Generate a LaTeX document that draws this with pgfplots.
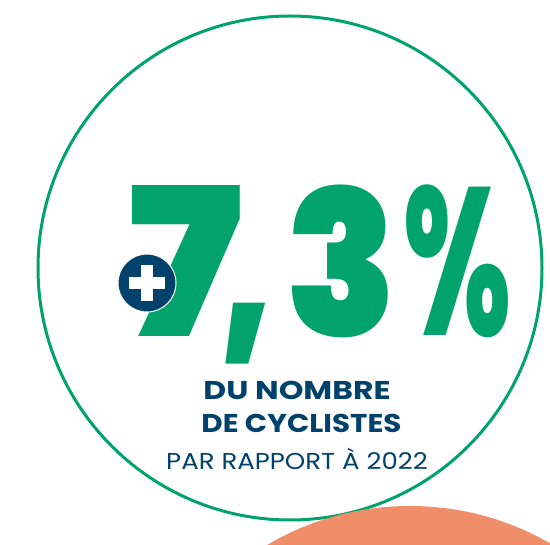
\documentclass[border=0pt]{standalone}
\usepackage{pgfplots}
\pgfplotsset{compat=1.18}
\usepackage{graphicx}
\usepackage{fontspec}
\setmainfont{Poppins}
\newfontfamily\heavy{Poppins Black}
\newfontfamily\semi{Poppins ExtraBold}
\definecolor{vert}{HTML}{00A36B}
\definecolor{marine}{HTML}{00426B}
\definecolor{saumon}{HTML}{F08E6A}
\begin{document}
\begin{tikzpicture}
\begin{axis}[scale only axis, width=550pt, height=545pt,
  xmin=0, xmax=550, ymin=0, ymax=545, y dir=reverse,
  hide axis, clip=true]
\draw[vert, line width=3pt] (axis cs:290,268) circle[radius=252];
\fill[saumon] (axis cs:410,787) circle[radius=281];
% big figure 7,3 %
\node[text=vert, anchor=south, inner sep=0pt] at (axis cs:185,337)
  {\resizebox*{114pt}{151pt}{\heavy\fontsize{200}{200}\selectfont 7}};
\node[text=vert, anchor=south, inner sep=0pt] at (axis cs:246.5,364)
  {\resizebox*{56pt}{61pt}{\heavy\fontsize{200}{200}\selectfont ,}};
\node[text=vert, anchor=south, inner sep=0pt] at (axis cs:341,338)
  {\resizebox*{112pt}{153pt}{\heavy\fontsize{200}{200}\selectfont 3}};
\node[text=vert, anchor=south, inner sep=0pt] at (axis cs:457,338)
  {\resizebox*{108pt}{153pt}{\semi\fontsize{200}{200}\selectfont \%}};
% plus badge
\fill[marine, draw=white, line width=1pt] (axis cs:147,283) circle[radius=29];
\fill[white] (axis cs:129,277) rectangle (axis cs:165,289);
\fill[white] (axis cs:141,265) rectangle (axis cs:153,301);
% caption
\node[text=marine, anchor=base, inner sep=0pt] at (axis cs:297,400)
  {\resizebox*{187pt}{18.5pt}{\bfseries\fontsize{25}{25}\selectfont DU NOMBRE}};
\node[text=marine, anchor=base, inner sep=0pt] at (axis cs:301.5,433)
  {\resizebox*{200pt}{18.5pt}{\bfseries\fontsize{25}{25}\selectfont DE CYCLISTES}};
\node[text=marine, anchor=base, inner sep=0pt] at (axis cs:297,470)
  {\scalebox{1.13}[1.0]{\fontsize{23}{23}\selectfont PAR RAPPORT À 2022}};
\end{axis}
\pgfresetboundingbox
\useasboundingbox (current axis.south west) rectangle (current axis.north east);
\end{tikzpicture}
\end{document}
